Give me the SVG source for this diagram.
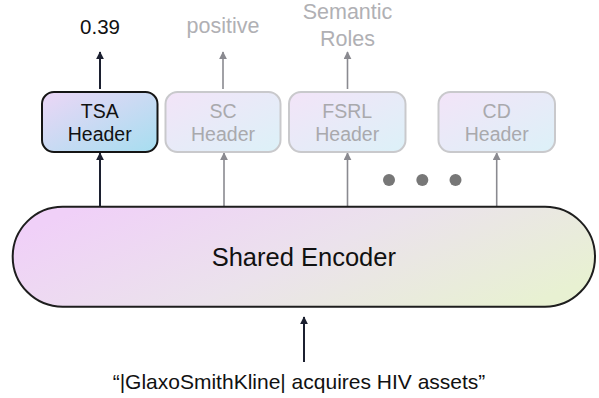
<svg xmlns="http://www.w3.org/2000/svg" width="599" height="398" viewBox="0 0 599 398">
<defs>
<linearGradient id="gTSA" x1="0" y1="0" x2="1" y2="1">
<stop offset="0" stop-color="#ecd6f6"/>
<stop offset="1" stop-color="#a6def0"/>
</linearGradient>
<linearGradient id="gFade" x1="0" y1="0" x2="1" y2="1">
<stop offset="0" stop-color="#f3e4f8"/>
<stop offset="1" stop-color="#dcf1f8"/>
</linearGradient>
<linearGradient id="gEnc" x1="0" y1="0.3" x2="1" y2="0.7">
<stop offset="0" stop-color="#f0d0f8"/>
<stop offset="0.5" stop-color="#ebe2ec"/>
<stop offset="1" stop-color="#e8f1d2"/>
</linearGradient>
<marker id="ahD" viewBox="0 0 10 10" refX="9" refY="5" markerWidth="4" markerHeight="4.5" orient="auto" markerUnits="strokeWidth">
<path d="M0,0 L10,5 L0,10 z" fill="#1c2030"/>
</marker>
<marker id="ahG" viewBox="0 0 10 10" refX="9" refY="5" markerWidth="5" markerHeight="5" orient="auto" markerUnits="strokeWidth">
<path d="M0,0 L10,5 L0,10 z" fill="#8a8a90"/>
</marker>
<style>
text{font-family:"Liberation Sans",Arial,sans-serif;text-anchor:middle}
.dark{stroke:#1c2030;stroke-width:2;fill:none;marker-end:url(#ahD)}
.gray{stroke:#8a8a90;stroke-width:1.6;fill:none;marker-end:url(#ahG)}
.hdr{font-size:19.5px}
.lblK{fill:#111;font-size:20.5px}
.lblG{fill:#b0b0b4;font-size:21.5px}
.fade rect{fill:url(#gFade);stroke:#c9c9cc;stroke-width:2}
.fade text{fill:#a9a9ad}
</style>
</defs>

<g id="connectors">
<line class="dark" x1="100" y1="89" x2="100" y2="52"/>
<line class="gray" x1="223" y1="89" x2="223" y2="52"/>
<line class="gray" x1="347.5" y1="89" x2="347.5" y2="52"/>
<line class="dark" x1="100" y1="207" x2="100" y2="153"/>
<line class="gray" x1="224" y1="207" x2="224" y2="153"/>
<line class="gray" x1="347.5" y1="207" x2="347.5" y2="153"/>
<line class="gray" x1="496.7" y1="207" x2="496.7" y2="153"/>
<line class="dark" x1="304" y1="362" x2="304" y2="317"/>
</g>

<g id="label-tsa"><text class="lblK" x="100" y="33.5">0.39</text></g>
<g id="label-sc"><text class="lblG" x="223" y="33">positive</text></g>
<g id="label-fsrl"><text class="lblG" x="347.5" y="19">Semantic</text><text class="lblG" x="347.5" y="45.7">Roles</text></g>

<g id="tsa-header">
<rect x="42" y="92" width="115.5" height="60" rx="12" fill="url(#gTSA)" stroke="#151515" stroke-width="2"/>
<text class="hdr" x="99.7" y="117.7" fill="#111">TSA</text>
<text class="hdr" x="99.7" y="140.7" fill="#111">Header</text>
</g>
<g id="sc-header" class="fade">
<rect x="165.5" y="92" width="115" height="60" rx="12"/>
<text class="hdr" x="223" y="117.7">SC</text>
<text class="hdr" x="223" y="140.7">Header</text>
</g>
<g id="fsrl-header" class="fade">
<rect x="289" y="92" width="116.5" height="60" rx="12"/>
<text class="hdr" x="347.2" y="117.7">FSRL</text>
<text class="hdr" x="347.2" y="140.7">Header</text>
</g>
<g id="cd-header" class="fade">
<rect x="438.5" y="92" width="116.5" height="60" rx="12"/>
<text class="hdr" x="496.7" y="117.7">CD</text>
<text class="hdr" x="496.7" y="140.7">Header</text>
</g>

<g id="ellipsis" fill="#777">
<circle cx="389" cy="180" r="6"/>
<circle cx="422.3" cy="180" r="6"/>
<circle cx="455.5" cy="180" r="6"/>
</g>

<g id="shared-encoder">
<rect x="12.7" y="206.7" width="582.3" height="100" rx="50" fill="url(#gEnc)" stroke="#1e1e1e" stroke-width="2"/>
<text x="303.8" y="266" font-size="25.5" fill="#111">Shared Encoder</text>
</g>

<g id="input">
<text x="299" y="389.3" font-size="21" fill="#111">“|GlaxoSmithKline| acquires HIV assets”</text>
</g>
</svg>
